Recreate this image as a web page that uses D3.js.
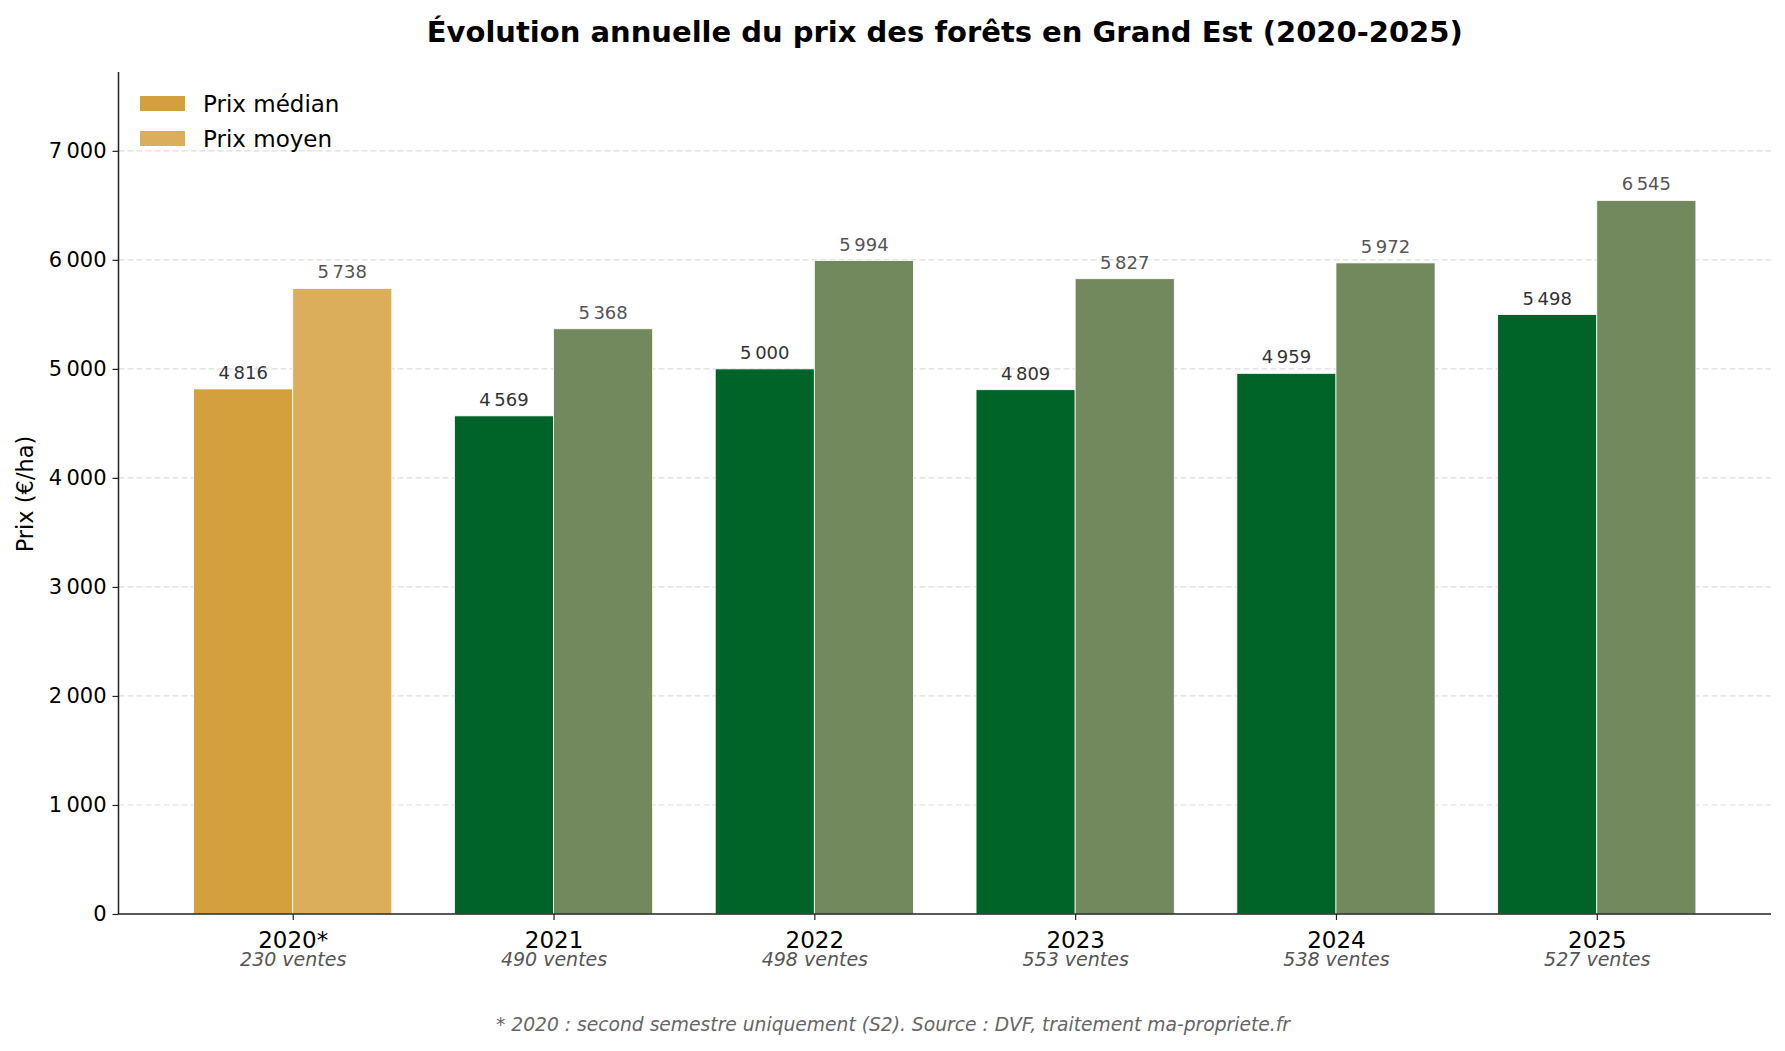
<!DOCTYPE html>
<html>
<head>
<meta charset="utf-8">
<script src="https://cdn.jsdelivr.net/npm/d3@7"></script>
<style>
  body { margin: 0; background: #fff; }
  text { font-family: "DejaVu Sans", sans-serif; }
</style>
</head>
<body>
<script>
var years = ['2020*', '2021', '2022', '2023', '2024', '2025'];
var ventes = [230, 490, 498, 553, 538, 527];
var median = [4816, 4569, 5000, 4809, 4959, 5498];
var moyen = [5738, 5368, 5994, 5827, 5972, 6545];
var yTicks = [0, 1000, 2000, 3000, 4000, 5000, 6000, 7000];

var width = 1785, height = 1051;
var mLeft = 118.5, mRight = 1771, mTop = 72, mBottom = 914;
var barW = 0.38;

var fmt = d3.formatLocale({decimal: ',', thousands: '\u2009', grouping: [3], currency: ['', '€']}).format(',d');

var x = d3.scaleLinear()
  .domain([-0.668, 5.668])
  .range([mLeft, mRight]);

var y = d3.scaleLinear()
  .domain([0, 7723])
  .range([mBottom, mTop]);

// 2020 only has a half year, so it gets the gold colours
function colMed(i) { return i == 0 ? '#d4a03c' : '#006428'; }
function colMoy(i) { return i == 0 ? '#dbae5c' : '#72895e'; }

var svg = d3.select('body').append('svg')
  .attr('width', width)
  .attr('height', height);

// grid
svg.append('g')
  .selectAll('line')
  .data(yTicks.slice(1))
  .enter().append('line')
  .attr('x1', mLeft).attr('x2', mRight)
  .attr('y1', d => y(d)).attr('y2', d => y(d))
  .attr('stroke', '#dddddd')
  .attr('stroke-width', 1.2)
  .attr('stroke-dasharray', '6,3');

var g = svg.selectAll('.grp')
  .data(years)
  .enter().append('g');

g.append('rect')
  .attr('x', (d, i) => x(i - barW))
  .attr('width', x(barW) - x(0))
  .attr('y', (d, i) => y(median[i]))
  .attr('height', (d, i) => y(0) - y(median[i]))
  .attr('fill', (d, i) => colMed(i))
  .attr('stroke', '#fff').attr('stroke-width', 0.8);

g.append('rect')
  .attr('x', (d, i) => x(i))
  .attr('width', x(barW) - x(0))
  .attr('y', (d, i) => y(moyen[i]))
  .attr('height', (d, i) => y(0) - y(moyen[i]))
  .attr('fill', (d, i) => colMoy(i))
  .attr('stroke', '#fff').attr('stroke-width', 0.8);

g.append('text')
  .attr('x', (d, i) => x(i - barW / 2))
  .attr('y', (d, i) => y(median[i]) - 10)
  .attr('text-anchor', 'middle')
  .attr('font-size', 18)
  .attr('fill', '#333')
  .text((d, i) => fmt(median[i]));

g.append('text')
  .attr('x', (d, i) => x(i + barW / 2))
  .attr('y', (d, i) => y(moyen[i]) - 10)
  .attr('text-anchor', 'middle')
  .attr('font-size', 18)
  .attr('fill', '#555')
  .text((d, i) => fmt(moyen[i]));

// axes
var yAxis = d3.axisLeft(y).tickValues(yTicks).tickFormat(fmt).tickSize(6).tickPadding(6);
var ya = svg.append('g').attr('transform', 'translate(' + mLeft + ',0)').call(yAxis);
ya.select('.domain').attr('d', 'M0,' + mTop + 'V' + mBottom).attr('stroke', '#222').attr('stroke-width', 1.5);
ya.selectAll('.tick line').attr('stroke', '#222').attr('stroke-width', 1.2);
ya.selectAll('.tick text').attr('font-size', 21).attr('fill', '#000').attr('font-family', 'DejaVu Sans');

var xAxis = d3.axisBottom(x).tickValues(d3.range(years.length)).tickFormat(i => years[i]).tickSize(6).tickPadding(12);
var xa = svg.append('g').attr('transform', 'translate(0,' + mBottom + ')').call(xAxis);
xa.select('.domain').attr('d', 'M' + mLeft + ',0H' + mRight).attr('stroke', '#222').attr('stroke-width', 1.5);
xa.selectAll('.tick line').attr('stroke', '#222').attr('stroke-width', 1.2);
xa.selectAll('.tick text').attr('font-size', 23).attr('fill', '#000').attr('font-family', 'DejaVu Sans');

xa.selectAll('.tick').append('text')
  .attr('y', 52)
  .attr('text-anchor', 'middle')
  .attr('font-size', 19)
  .attr('font-style', 'italic')
  .attr('fill', '#555')
  .attr('font-family', 'DejaVu Sans')
  .text(i => ventes[i] + ' ventes');

svg.append('text')
  .attr('transform', 'translate(33,494) rotate(-90)')
  .attr('text-anchor', 'middle')
  .attr('font-size', 22.5)
  .text('Prix (€/ha)');

svg.append('text')
  .attr('x', (mLeft + mRight) / 2)
  .attr('y', 42)
  .attr('text-anchor', 'middle')
  .attr('font-size', 29)
  .attr('font-weight', 'bold')
  .text('Évolution annuelle du prix des forêts en Grand Est (2020-2025)');

svg.append('text')
  .attr('x', 893)
  .attr('y', 1031)
  .attr('text-anchor', 'middle')
  .attr('font-size', 18.7)
  .attr('font-style', 'italic')
  .attr('fill', '#666')
  .text('* 2020 : second semestre uniquement (S2). Source : DVF, traitement ma-propriete.fr');

// legend
var legend = [{name: 'Prix médian', color: '#d4a03c'}, {name: 'Prix moyen', color: '#dbae5c'}];
var lg = svg.selectAll('.leg')
  .data(legend)
  .enter().append('g')
  .attr('transform', (d, i) => 'translate(140,' + (96 + i * 35) + ')');
lg.append('rect').attr('width', 45).attr('height', 15).attr('fill', d => d.color);
lg.append('text').attr('x', 63).attr('y', 16).attr('font-size', 23).text(d => d.name);
</script>
</body>
</html>
